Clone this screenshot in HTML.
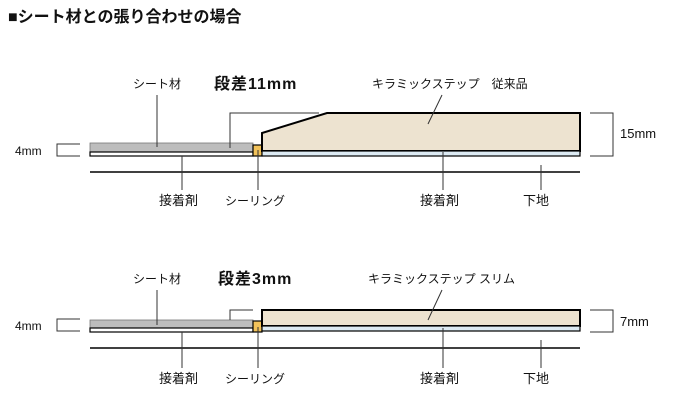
<!DOCTYPE html>
<html><head><meta charset="utf-8"><style>
html,body{margin:0;padding:0;background:#fff;}
svg{display:block;}
text{font-family:"Liberation Sans","Noto Sans CJK JP",sans-serif;fill:#111;}
</style></head><body>
<svg width="677" height="413" viewBox="0 0 677 413" xmlns="http://www.w3.org/2000/svg">
<text x="8" y="22" font-size="16" font-weight="bold">■シート材との張り合わせの場合</text>

<!-- Diagram 1 -->
<g>
<text x="133" y="88" font-size="12">シート材</text>
<text x="214" y="89" font-size="16" font-weight="bold" letter-spacing="1">段差11mm</text>
<text x="372" y="88" font-size="12">キラミックステップ　従来品</text>
<text x="15" y="155" font-size="12">4mm</text>
<text x="620" y="138" font-size="13">15mm</text>
<path d="M80 144H57V156H80" fill="none" stroke="#333" stroke-width="1"/>
<rect x="90" y="143" width="163" height="9" fill="#bdbdbd" stroke="#777" stroke-width="0.8"/>
<rect x="90" y="152" width="163" height="4" fill="#fff" stroke="#000" stroke-width="1.2"/>
<rect x="253" y="145" width="9" height="11" fill="#f2c25a" stroke="#000" stroke-width="1.2"/>
<path d="M262 151V133L327 113H580V151Z" fill="#ede3d0" stroke="#000" stroke-width="2"/>
<rect x="262" y="151" width="318" height="5" fill="#dceaf3" stroke="#000" stroke-width="1.2"/>
<line x1="90" y1="172" x2="580" y2="172" stroke="#000" stroke-width="1.5"/>
<path d="M590 113H613V156H590" fill="none" stroke="#333" stroke-width="1"/>
<line x1="157" y1="95" x2="157" y2="147" stroke="#333"/>
<path d="M230 148V113H319" fill="none" stroke="#333"/>
<line x1="442" y1="95" x2="428" y2="124" stroke="#333"/>
<line x1="182" y1="156" x2="182" y2="190" stroke="#333"/>
<line x1="258" y1="150" x2="258" y2="190" stroke="#333"/>
<line x1="443" y1="152" x2="443" y2="190" stroke="#333"/>
<line x1="541" y1="165" x2="541" y2="190" stroke="#333"/>
<text x="159" y="205" font-size="13">接着剤</text>
<text x="225" y="205" font-size="12">シーリング</text>
<text x="420" y="205" font-size="13">接着剤</text>
<text x="523" y="205" font-size="13">下地</text>
</g>

<!-- Diagram 2 -->
<g>
<text x="133" y="283" font-size="12">シート材</text>
<text x="218" y="284" font-size="16" font-weight="bold" letter-spacing="1">段差3mm</text>
<text x="368" y="283" font-size="12">キラミックステップ スリム</text>
<text x="15" y="330" font-size="12">4mm</text>
<text x="620" y="326" font-size="13">7mm</text>
<path d="M80 319H57V331H80" fill="none" stroke="#333" stroke-width="1"/>
<rect x="90" y="320" width="163" height="8" fill="#bdbdbd" stroke="#777" stroke-width="0.8"/>
<rect x="90" y="328" width="163" height="4" fill="#fff" stroke="#000" stroke-width="1.2"/>
<rect x="253" y="321" width="9" height="11" fill="#f2c25a" stroke="#000" stroke-width="1.2"/>
<rect x="262" y="310" width="318" height="16" fill="#ede3d0" stroke="#000" stroke-width="2"/>
<rect x="262" y="326" width="318" height="5" fill="#dceaf3" stroke="#000" stroke-width="1.2"/>
<line x1="90" y1="348" x2="580" y2="348" stroke="#000" stroke-width="1.5"/>
<path d="M590 310H613V332H590" fill="none" stroke="#333" stroke-width="1"/>
<line x1="157" y1="290" x2="157" y2="325" stroke="#333"/>
<path d="M230 320V310H253" fill="none" stroke="#333"/>
<line x1="442" y1="290" x2="428" y2="320" stroke="#333"/>
<line x1="182" y1="332" x2="182" y2="368" stroke="#333"/>
<line x1="258" y1="327" x2="258" y2="368" stroke="#333"/>
<line x1="443" y1="328" x2="443" y2="368" stroke="#333"/>
<line x1="541" y1="340" x2="541" y2="368" stroke="#333"/>
<text x="159" y="383" font-size="13">接着剤</text>
<text x="225" y="383" font-size="12">シーリング</text>
<text x="420" y="383" font-size="13">接着剤</text>
<text x="523" y="383" font-size="13">下地</text>
</g>
</svg>
</body></html>
